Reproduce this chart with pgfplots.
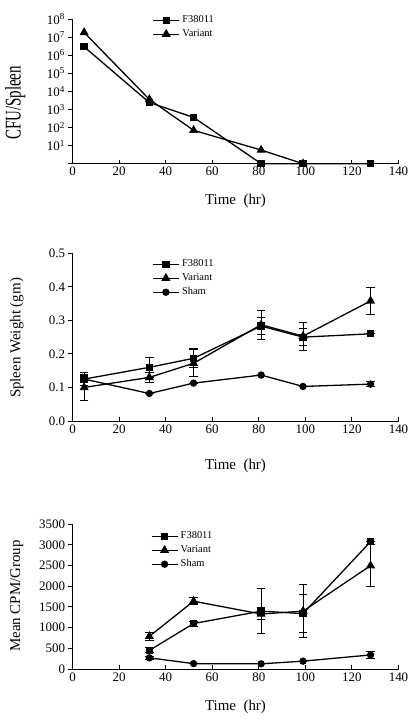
\documentclass[border=0pt]{standalone}
\usepackage{fontspec}
\setmainfont{Liberation Serif}
\usepackage{pgfplots}
\pgfplotsset{compat=1.18}
\pgfplotsset{
  myax/.style={
    scale only axis, width=326bp,
    xmin=0, xmax=140, xtick={0,20,...,140},
    axis x line*=bottom, axis y line*=left,
    axis line style={line width=1bp, -},
    xtick align=inside, ytick align=outside,
    major tick length=4bp,
    tick style={line width=1bp, black},
    tick label style={font=\fontsize{13}{15}\selectfont},
    /pgf/number format/assume math mode=true,
    /pgf/number format/1000 sep={},
    xlabel={Time\ \ (hr)},
    label style={font=\fontsize{15}{18}\selectfont},
    legend image code/.code={\draw[mark repeat=2,mark phase=2,#1] plot coordinates {(0bp,0bp) (13bp,0bp) (26bp,0bp)};},
    legend style={draw=none, fill=none, inner sep=0pt, row sep=0pt,
      font=\fontsize{10.5}{12}\selectfont,
      nodes={text height=7bp, text depth=2bp, inner sep=2.5bp}, anchor=north west},
    legend cell align=left,
    every axis plot/.append style={line width=1.3bp, black},
    clip=false,
  },
  sq/.style={mark=square*, mark size=3bp},
  tri/.style={mark=triangle*, mark size=4bp},
  circ/.style={mark=*, mark size=3bp},
  eb/.style={error bars/y dir=both, error bars/y explicit,
    error bars/error mark options={rotate=90, mark size=4.3bp, line width=1bp},
    error bars/error bar style={line width=1bp}},
}
\begin{document}
\begin{tikzpicture}
\useasboundingbox (0,0) rectangle (416bp,-720bp);
% ---------- top ----------
\begin{axis}[myax, at={(72.5bp,-163.7bp)}, anchor=south west, height=144.7bp,
  ymode=log, ymin=1, ymax=1e8, yminorticks=false,
  ytick={1,10,100,1000,10000,100000,1000000,10000000,100000000},
  yticklabels={{},10\textsuperscript{1},10\textsuperscript{2},10\textsuperscript{3},10\textsuperscript{4},10\textsuperscript{5},10\textsuperscript{6},10\textsuperscript{7},10\textsuperscript{8}},
  ylabel={CFU/Spleen},
  ylabel style={at={(axis description cs:-0.176,0.42)}, anchor=center, yscale=1.5},
  xlabel style={at={(axis description cs:0.5,-0.2557)}, anchor=center},
  legend style={at={(axis description cs:0.245,1.0415)}},
]
\addplot[sq] coordinates {(5,2.9e6) (33,2.4e3) (52,365) (81,1) (99,1) (128,1)};
\addlegendentry{F38011}
\addplot[tri] coordinates {(5,1.8e7) (33,3.6e3) (52,70) (81,5.7) (99,1)};
\addlegendentry{Variant}
\end{axis}
% ---------- middle ----------
\begin{axis}[myax, at={(72.5bp,-421bp)}, anchor=south west, height=167.7bp,
  ymin=0, ymax=0.5, ytick={0,0.1,...,0.5},
  yticklabel style={/pgf/number format/.cd, fixed, fixed zerofill, precision=1},
  ylabel={Spleen Weight (gm)},
  ylabel style={at={(axis description cs:-0.171,0.495)}, anchor=center},
  xlabel style={at={(axis description cs:0.5,-0.268)}, anchor=center},
  legend style={at={(axis description cs:0.244,0.978)}},
]
\addplot[sq, eb] table[y error=e] {
x y e
5 0.125 0.02
33 0.16 0.03
52 0.187 0.028
81 0.283 0.025
99 0.25 0.026
128 0.26 0
};
\addlegendentry{F38011}
\addplot[tri, eb] table[y error=e] {
x y e
5 0.10 0.04
33 0.13 0.015
52 0.172 0.04
81 0.287 0.043
99 0.253 0.042
128 0.358 0.041
};
\addlegendentry{Variant}
\addplot[circ, eb] table[y error=e] {
x y e
5 0.125 0
33 0.082 0
52 0.113 0
81 0.137 0
99 0.103 0
128 0.11 0.007
};
\addlegendentry{Sham}
\end{axis}
% ---------- bottom ----------
\begin{axis}[myax, at={(72.5bp,-669bp)}, anchor=south west, height=144.7bp,
  ymin=0, ymax=3500, ytick={0,500,...,3500},
  ylabel={Mean CPM/Group},
  ylabel style={at={(axis description cs:-0.171,0.504)}, anchor=center},
  xlabel style={at={(axis description cs:0.5,-0.2626)}, anchor=center},
  legend style={at={(axis description cs:0.24,0.9675)}},
]
\addplot[sq, eb] table[y error=e] {
x y e
33 450 60
52 1100 60
81 1400 550
99 1340 465
128 3080 0
};
\addlegendentry{F38011}
\addplot[tri, eb] table[y error=e] {
x y e
33 790 100
52 1640 80
81 1330 130
99 1400 640
128 2500 500
};
\addlegendentry{Variant}
\addplot[circ, eb] table[y error=e] {
x y e
33 270 40
52 130 0
81 125 0
99 190 0
128 340 80
};
\addlegendentry{Sham}
\end{axis}
\end{tikzpicture}
\end{document}
